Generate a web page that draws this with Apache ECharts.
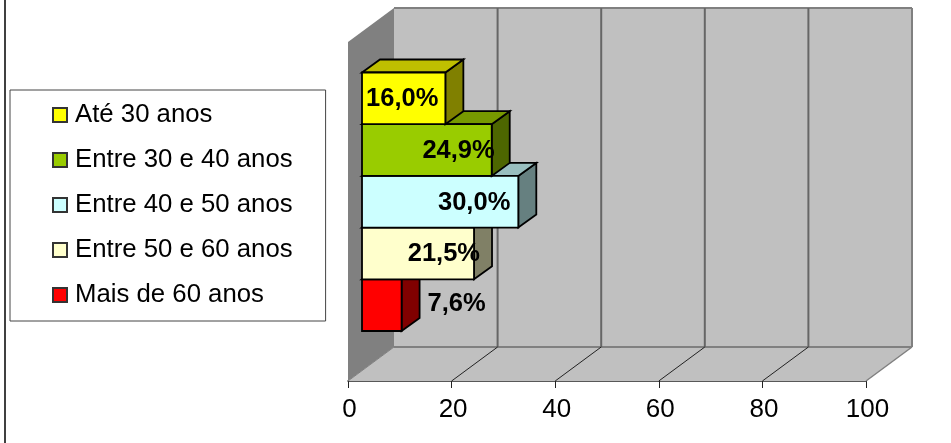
<!DOCTYPE html>
<html>
<head>
<meta charset="utf-8">
<style>html,body{margin:0;padding:0;background:#fff}#chart{width:951px;height:443px}</style>
<script src="https://cdn.jsdelivr.net/npm/echarts@6/dist/echarts.min.js"></script>
</head>
<body>
<div id="chart"></div>
<script>
// Age bands and their share of respondents, in percent
const faixas = ['Até 30 anos', 'Entre 30 e 40 anos', 'Entre 40 e 50 anos', 'Entre 50 e 60 anos', 'Mais de 60 anos'];
const percentuais = [16.0, 24.9, 30.0, 21.5, 7.6];
const marcasEixo = [0, 20, 40, 60, 80, 100];

// Face colours for each band: front, top, side
const frente = ['#FFFF00', '#99CC00', '#CCFFFF', '#FFFFCC', '#FF0000'];
const topo = ['#BFBF00', '#779900', '#99BFBF', '#BFBF99', '#BF0000'];
const lado = ['#808000', '#4D6600', '#668080', '#808066', '#800000'];

// Nudge of each value label from the end of its bar, horizontal and vertical
const ajusteRotuloX = [-7, 3, -8, 6, 84];
const ajusteRotuloY = [1, 1, 1, 1, -1.5];

const FONT = '"Liberation Sans", Arial, sans-serif';
const PAREDE = { x: 46, y: -34 };   // depth of the chart box
const BARRA = { x: 18, y: -13 };    // depth of a bar

function poly(points, fill, stroke, lineWidth) {
  return { type: 'polygon', shape: { points }, style: { fill, stroke: stroke || 'none', lineWidth: lineWidth || 0 } };
}
function line(a, b, stroke, lineWidth) {
  return { type: 'line', shape: { x1: a[0], y1: a[1], x2: b[0], y2: b[1] }, style: { stroke, lineWidth } };
}
const shift = (p, d) => [p[0] + d.x, p[1] + d.y];

// Back wall, side wall, floor and the gridlines that run over them
function desenhaCaixa(params, api) {
  if (params.dataIndex !== 0) return null;
  const a = api.coord([0, 0]), b = api.coord([100, 0]), c = api.coord([0, 1]);
  const children = [
    poly([shift(c, PAREDE), [b[0] + PAREDE.x, c[1] + PAREDE.y], shift(b, PAREDE), shift(a, PAREDE)], '#C0C0C0'),
    poly([a, shift(a, PAREDE), shift(c, PAREDE), c], '#808080'),
    poly([a, b, shift(b, PAREDE), shift(a, PAREDE)], '#C0C0C0'),
    line(shift(a, PAREDE), shift(b, PAREDE), '#808080', 2),
    line(shift(c, PAREDE), [b[0] + PAREDE.x, c[1] + PAREDE.y], '#808080', 2),
    line(a, shift(a, PAREDE), '#808080', 1),
    line(b, shift(b, PAREDE), '#808080', 1.5)
  ];
  marcasEixo.forEach((v) => {
    const f = api.coord([v, 0]), t = api.coord([v, 1]);
    if (v > 0) children.push(line(shift(f, PAREDE), [t[0] + PAREDE.x, t[1] + PAREDE.y], v === 100 ? '#808080' : '#666666', 2));
    if (v > 0 && v < 100) children.push(line(f, shift(f, PAREDE), '#222222', 1));
  });
  return { type: 'group', children };
}

// One bar in 3D: side and top faces behind the front face, then its value label
function desenhaBarra(i) {
  return function (params, api) {
    const fim = api.coord([api.value(0), api.value(1)]);
    const ini = api.coord([0, api.value(1)]);
    const h = api.size([0, 1])[1];
    const x0 = ini[0], x1 = fim[0], y0 = fim[1] - h / 2, y1 = fim[1] + h / 2;
    const tl = [x0, y0], tr = [x1, y0], br = [x1, y1], bl = [x0, y1];
    const borda = '#000000';
    return {
      type: 'group',
      children: [
        poly([tr, shift(tr, BARRA), shift(br, BARRA), br], lado[i], borda, 1.8),
        poly([tl, shift(tl, BARRA), shift(tr, BARRA), tr], topo[i], borda, 1.8),
        poly([tl, tr, br, bl], frente[i], borda, 1.8),
        {
          type: 'text',
          style: {
            text: percentuais[i].toFixed(1).replace('.', ',') + '%',
            x: x1 + ajusteRotuloX[i], y: fim[1] + ajusteRotuloY[i],
            align: 'right', verticalAlign: 'middle',
            font: 'bold 25.5px ' + FONT, fill: '#000000'
          }
        }
      ]
    };
  };
}

const series = [{
  type: 'custom', name: 'caixa', xAxisIndex: 0, yAxisIndex: 0, z: 1, silent: true,
  data: marcasEixo.map((v) => [v, 0]),
  renderItem: desenhaCaixa, clip: false, animation: false
}];
faixas.forEach((nome, i) => {
  series.push({
    type: 'custom', name: nome, xAxisIndex: 1, yAxisIndex: 1, z: 10 - i,
    itemStyle: { color: frente[i], borderColor: '#333333', borderWidth: 1.5 },
    data: [[percentuais[i], i]],
    encode: { x: 0, y: 1 },
    renderItem: desenhaBarra(i), clip: false, animation: false
  });
});

const chart = echarts.init(document.getElementById('chart'), null, { renderer: 'canvas' });
chart.setOption({
  animation: false,
  backgroundColor: '#ffffff',
  graphic: [{
    type: 'line', z: -1, silent: true,
    shape: { x1: 5, y1: 0, x2: 5, y2: 443 },
    style: { stroke: '#000000', lineWidth: 1.5 }
  }],
  grid: [
    { left: 348, width: 518, top: 42, height: 339 },
    { left: 362, width: 521, top: 72.5, height: 258.5 }
  ],
  xAxis: [
    {
      gridIndex: 0, type: 'value', min: 0, max: 100, interval: 20,
      axisLine: { show: true, lineStyle: { color: '#222222', width: 1.5 } },
      axisTick: { show: true, length: 7, lineStyle: { color: '#222222', width: 1 } },
      axisLabel: { fontFamily: FONT, fontSize: 26, color: '#000000', margin: 16, padding: [0, 0, 0, 3] },
      splitLine: { show: false }
    },
    { gridIndex: 1, type: 'value', min: 0, max: 100, show: false }
  ],
  yAxis: [
    { gridIndex: 0, type: 'value', min: 0, max: 1, show: false },
    { gridIndex: 1, type: 'category', data: faixas.map((_, i) => i), inverse: true, show: false }
  ],
  legend: {
    data: faixas, orient: 'vertical', left: 10, top: 90,
    backgroundColor: '#ffffff', borderColor: '#444444', borderWidth: 1,
    padding: [12, 33, 13, 42],
    icon: 'rect',
    itemWidth: 14, itemHeight: 14, itemGap: 19,
    textStyle: { fontFamily: FONT, fontSize: 25.75, color: '#000000', padding: [0, 0, 0, 3] },
    selectedMode: false
  },
  series
});
</script>
</body>
</html>
